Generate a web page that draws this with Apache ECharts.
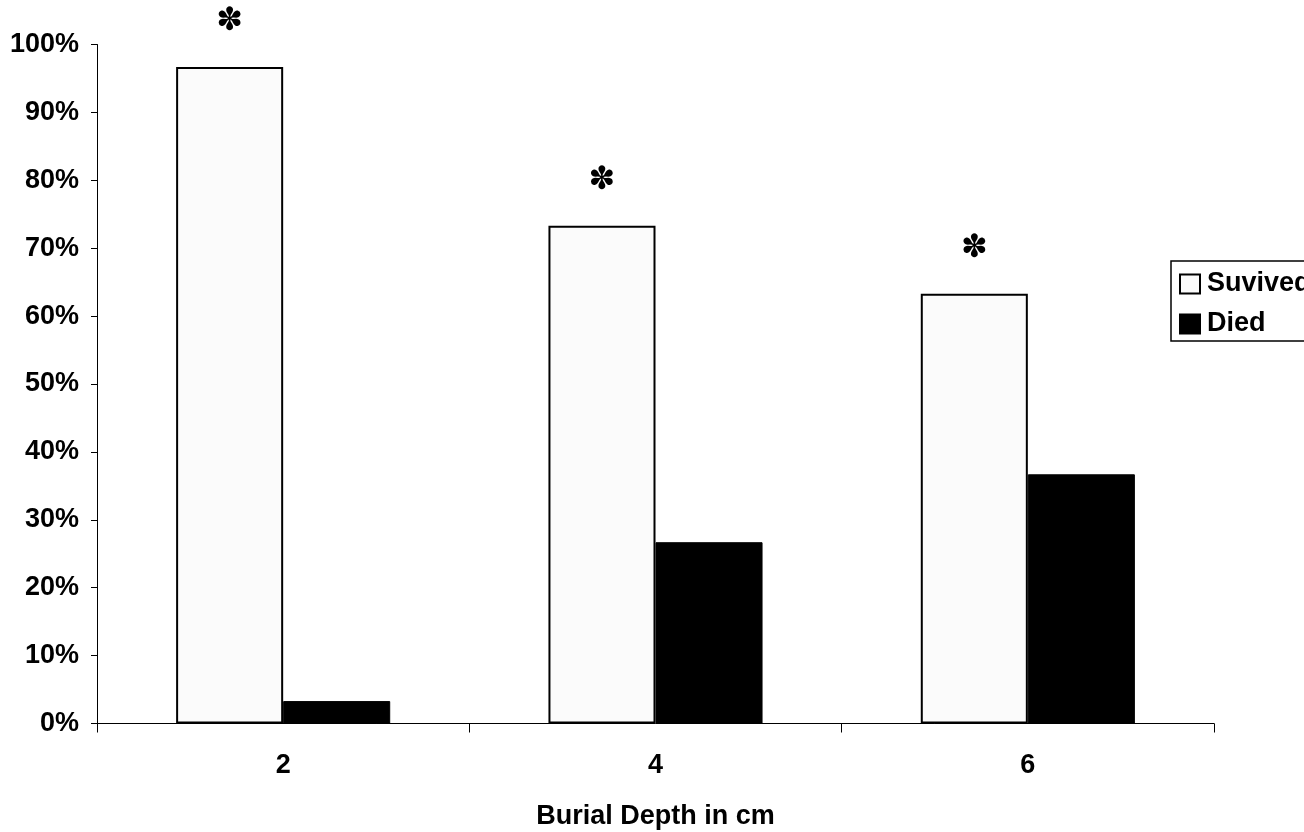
<!DOCTYPE html>
<html>
<head>
<meta charset="utf-8">
<script src="https://cdn.jsdelivr.net/npm/echarts@6/dist/echarts.min.js"></script>
<style>
html,body{margin:0;padding:0;background:#fff;}
#chart{width:1304px;height:832px;}
</style>
</head>
<body>
<div id="chart"></div>
<script>
var categories = ['2', '4', '6'];
var survived = [96.7, 73.3, 63.3];
var died = [3.3, 26.7, 36.7];
var significance = ['✽', '✽', '✽'];
var yTicks = [0, 10, 20, 30, 40, 50, 60, 70, 80, 90, 100];

var FONT = '"Liberation Sans", Arial, sans-serif';
var chart = echarts.init(document.getElementById('chart'), null, {renderer: 'canvas'});
chart.setOption({
  backgroundColor: '#ffffff',
  animation: false,
  grid: {left: 97, right: 90, top: 44.5, bottom: 108.5, containLabel: false, outerBoundsMode: 'none'},
  legend: {
    orient: 'vertical',
    left: 1171,
    top: 261,
    data: ['Suvived', 'Died'],
    backgroundColor: '#ffffff',
    borderColor: '#000',
    borderWidth: 1.5,
    padding: [8, 60, 2, 8],
    itemWidth: 20,
    itemHeight: 19,
    itemGap: 10,
    icon: 'rect',
    textStyle: {fontFamily: FONT, fontWeight: 'bold', fontSize: 27, color: '#000', lineHeight: 30, padding: [0, 0, 0, 2]}
  },
  xAxis: {
    type: 'category',
    data: categories,
    name: 'Burial Depth in cm',
    nameLocation: 'middle',
    nameGap: 80,
    nameTextStyle: {fontFamily: FONT, fontWeight: 'bold', fontSize: 27, color: '#000'},
    axisLine: {lineStyle: {color: '#000', width: 1}},
    axisTick: {show: true, length: 9, lineStyle: {color: '#000'}},
    axisLabel: {fontFamily: FONT, fontWeight: 'bold', fontSize: 27, color: '#000', margin: 29},
    splitLine: {show: false}
  },
  yAxis: {
    type: 'value',
    min: 0,
    max: 100,
    interval: 10,
    axisLine: {show: true, lineStyle: {color: '#000', width: 1}},
    axisTick: {show: true, length: 6, inside: false, lineStyle: {color: '#000'}},
    axisLabel: {
      fontFamily: FONT, fontWeight: 'bold', fontSize: 27, color: '#000', margin: 18,
      formatter: function (v) { return yTicks.indexOf(v) >= 0 ? v + '%' : ''; }
    },
    splitLine: {show: false}
  },
  series: [
    {
      name: 'Suvived',
      type: 'bar',
      data: survived,
      barGap: '0%',
      barCategoryGap: '42.5%',
      itemStyle: {color: '#fbfbfb', borderColor: '#000', borderWidth: 2},
      label: {
        show: true,
        position: 'top',
        distance: 29,
        formatter: function (p) { return significance[p.dataIndex]; },
        fontFamily: '"DejaVu Sans", sans-serif',
        fontSize: 32,
        color: '#000'
      }
    },
    {
      name: 'Died',
      type: 'bar',
      data: died,
      itemStyle: {color: '#000', borderColor: '#000', borderWidth: 1}
    }
  ]
});
</script>
</body>
</html>
